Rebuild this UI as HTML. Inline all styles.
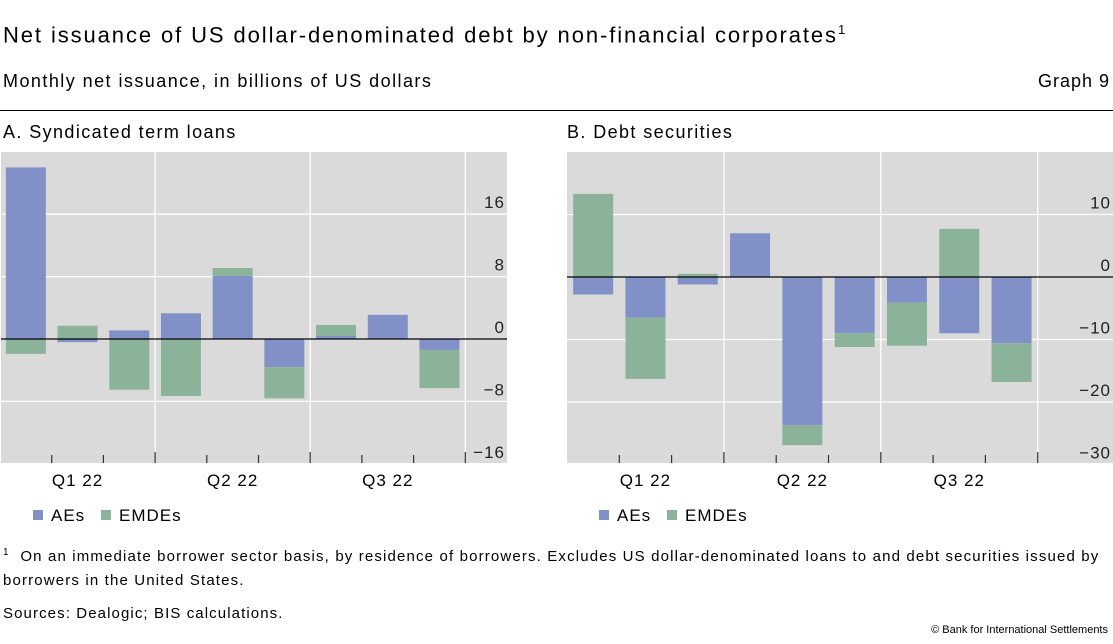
<!DOCTYPE html>
<html><head><meta charset="utf-8"><style>
body{margin:0;width:1113px;height:644px;background:#fff;font-family:"Liberation Sans",sans-serif;color:#000;overflow:hidden;position:relative}
.t{position:absolute;white-space:nowrap}
</style></head><body>
<div class="t" style="left:3px;top:22px;font-size:22px;letter-spacing:1.9px">Net issuance of US dollar-denominated debt by non-financial corporates<sup style="font-size:13px">1</sup></div>
<div class="t" style="left:3px;top:71px;font-size:18px;letter-spacing:1.45px">Monthly net issuance, in billions of US dollars</div>
<div class="t" style="right:3px;top:71px;font-size:18px;letter-spacing:1px">Graph 9</div>
<div style="position:absolute;left:0;top:110px;width:1113px;height:1px;background:#000"></div>
<div class="t" style="left:3px;top:122px;font-size:18px;letter-spacing:1.4px">A. Syndicated term loans</div>
<div class="t" style="left:567px;top:122px;font-size:18px;letter-spacing:1.4px">B. Debt securities</div>
<svg id="svg" width="1113" height="644" style="position:absolute;left:0;top:0"></svg>
<div class="t" style="left:3px;top:541px;font-size:15px;line-height:24px;letter-spacing:1.15px"><sup style="font-size:10px">1</sup>&nbsp;&nbsp;On an immediate borrower sector basis, by residence of borrowers. Excludes US dollar-denominated loans to and debt securities issued by<br>borrowers in the United States.</div>
<div class="t" style="left:3px;top:605px;font-size:15px;letter-spacing:1.1px">Sources: Dealogic; BIS calculations.</div>
<div class="t" style="right:5px;top:624px;font-size:11px">© Bank for International Settlements</div>
<script>
const quarters=["Q1 22","Q2 22","Q3 22"];
const aAEs=[22.0,-0.4,1.1,3.3,8.1,-3.6,0.4,3.1,-1.4];
const aEMDEs=[-1.9,1.7,-6.5,-7.3,1.0,-4.0,1.4,0,-4.9];
const aTicks=[16,8,0,-8,-16];
const bAEs=[-2.8,-6.5,-1.2,7.0,-23.7,-9.0,-4.1,-9.0,-10.6];
const bEMDEs=[13.3,-9.8,0.5,0,-3.2,-2.2,-6.9,7.7,-6.2];
const bTicks=[10,0,-10,-20,-30];
const NS="http://www.w3.org/2000/svg";
const svg=document.getElementById('svg');
function mk(t,a){const e=document.createElementNS(NS,t);for(const k in a)e.setAttribute(k,a[k]);svg.appendChild(e);return e;}
function panel(p,ae,em,ticks){
  const y=v=>p.zeroY-v*p.k;
  const bg=mk('rect',{x:p.x0,y:152,width:p.x1-p.x0,height:311,fill:'#dadada'});
  
  ticks.forEach(t=>{
    const g=mk('line',{x1:p.x0,x2:p.x1,y1:y(t),y2:y(t),stroke:'#fff','stroke-width':1.3});
    
    const tx=mk('text',{x:p.x1-2,y:y(t)-6,'text-anchor':'end','font-size':17,fill:'#222','font-family':'Liberation Sans, sans-serif','letter-spacing':1});
    tx.textContent=t<0?'\u2212'+(-t):String(t);
    
  });
  const n=ae.length, step=p.step;
  for(let q=1;q<=3;q++){const xx=p.start+q*3*step;const v=mk('line',{x1:xx,x2:xx,y1:152,y2:463,stroke:'#fff','stroke-width':1.3});
    }
  for(let i=1;i<=n;i++){const xx=p.start+i*step;const tk=mk('line',{x1:xx,x2:xx,y1:i%3?455:452,y2:463,stroke:'#333','stroke-width':1.2});
    }
  quarters.forEach((q,i)=>{const tx=mk('text',{x:p.start+(i*3+1.5)*step,y:486,'text-anchor':'middle','font-size':17,fill:'#000','font-family':'Liberation Sans, sans-serif','letter-spacing':1});tx.textContent=q;
    });
  for(let i=0;i<n;i++){
    const cx=p.start+(i+0.5)*step,w=40;let pos=0,neg=0;
    [[ae[i],'#8290c8','ae'],[em[i],'#8ab39a','emde']].forEach(([v,c,s])=>{
      let a,b;if(v>=0){a=pos;b=pos+v;pos=b;}else{a=neg;b=neg+v;neg=b;}
      const r=mk('rect',{x:cx-w/2,y:Math.min(y(a),y(b)),width:w,height:Math.abs(y(a)-y(b)),fill:c});
      
    });
  }
  const z=mk('line',{x1:p.x0,x2:p.x1,y1:p.zeroY,y2:p.zeroY,stroke:'#000','stroke-width':1.3});
  
  [['AEs','#8290c8',0],['EMDEs','#8ab39a',68]].forEach(([l,c,o])=>{
    const r=mk('rect',{x:p.x0+32+o,y:510,width:10,height:10,fill:c});
    const t=mk('text',{x:p.x0+50+o,y:521,'font-size':17,'font-family':'Liberation Sans, sans-serif','letter-spacing':1});t.textContent=l;
    
  });
}
panel({id:'panel-a',x0:1,x1:507,zeroY:339,k:7.8,start:0,step:51.7},aAEs,aEMDEs,aTicks);
panel({id:'panel-b',x0:567,x1:1113,zeroY:277,k:6.25,start:567,step:52.3},bAEs,bEMDEs,bTicks);
</script>
</body></html>
